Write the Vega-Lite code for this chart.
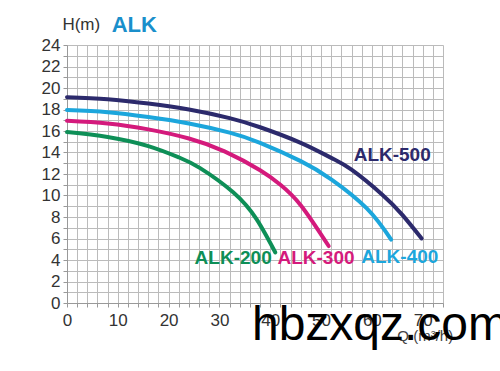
{
  "$schema": "https://vega.github.io/schema/vega-lite/v6.json",
  "width": 376,
  "height": 258,
  "autosize": {"type": "none"},
  "padding": {"left": 67, "top": 45, "right": 57, "bottom": 68},
  "background": "white",
  "config": {"view": {"stroke": null}},
  "datasets": {
    "curves": [
      {"model": "ALK-500", "q": 0, "h": 19.15},
      {"model": "ALK-500", "q": 8, "h": 18.95},
      {"model": "ALK-500", "q": 16, "h": 18.55},
      {"model": "ALK-500", "q": 24, "h": 18.0},
      {"model": "ALK-500", "q": 32, "h": 17.2},
      {"model": "ALK-500", "q": 38, "h": 16.35},
      {"model": "ALK-500", "q": 46, "h": 14.9},
      {"model": "ALK-500", "q": 52, "h": 13.5},
      {"model": "ALK-500", "q": 56, "h": 12.4},
      {"model": "ALK-500", "q": 62, "h": 10.1},
      {"model": "ALK-500", "q": 66, "h": 8.2},
      {"model": "ALK-500", "q": 69.8, "h": 6.0},
      {"model": "ALK-400", "q": 0, "h": 17.95},
      {"model": "ALK-400", "q": 8, "h": 17.75},
      {"model": "ALK-400", "q": 16, "h": 17.3},
      {"model": "ALK-400", "q": 24, "h": 16.7},
      {"model": "ALK-400", "q": 32, "h": 15.85},
      {"model": "ALK-400", "q": 38, "h": 14.9},
      {"model": "ALK-400", "q": 46, "h": 13.2},
      {"model": "ALK-400", "q": 52, "h": 11.5},
      {"model": "ALK-400", "q": 59, "h": 8.8},
      {"model": "ALK-400", "q": 63.8, "h": 5.9},
      {"model": "ALK-300", "q": 0, "h": 16.95},
      {"model": "ALK-300", "q": 8, "h": 16.7},
      {"model": "ALK-300", "q": 16, "h": 16.15},
      {"model": "ALK-300", "q": 24, "h": 15.3},
      {"model": "ALK-300", "q": 31, "h": 14.1},
      {"model": "ALK-300", "q": 38, "h": 12.35},
      {"model": "ALK-300", "q": 42, "h": 11.0},
      {"model": "ALK-300", "q": 46, "h": 9.1},
      {"model": "ALK-300", "q": 51.5, "h": 5.3},
      {"model": "ALK-200", "q": 0, "h": 15.9},
      {"model": "ALK-200", "q": 8, "h": 15.45},
      {"model": "ALK-200", "q": 16, "h": 14.6},
      {"model": "ALK-200", "q": 22, "h": 13.55},
      {"model": "ALK-200", "q": 26.2, "h": 12.55},
      {"model": "ALK-200", "q": 32.7, "h": 10.3},
      {"model": "ALK-200", "q": 37.3, "h": 7.8},
      {"model": "ALK-200", "q": 41, "h": 4.7}
    ],
    "labels": [
      {"model": "ALK-500", "q": 64, "h": 13.8},
      {"model": "ALK-400", "q": 65.5, "h": 4.3},
      {"model": "ALK-300", "q": 49, "h": 4.2},
      {"model": "ALK-200", "q": 32.7, "h": 4.2}
    ],
    "texts": [
      {"q": -0.9, "h": 25.9, "t": "H(m)", "kind": "unit"},
      {"q": 8.8, "h": 25.9, "t": "ALK", "kind": "brand"},
      {"q": 70.5, "h": -3.1, "t": "Q (m³/h)", "kind": "xtitle"},
      {"q": 36.4, "h": -3.45, "t": "hbzxqz.com", "kind": "mark"}
    ]
  },
  "encoding": {
    "x": {
      "field": "q", "type": "quantitative",
      "scale": {"domain": [0, 74], "nice": false, "zero": false},
      "axis": {
        "values": [0,2,4,6,8,10,12,14,16,18,20,22,24,26,28,30,32,34,36,38,40,42,44,46,48,50,52,54,56,58,60,62,64,66,68,70,72,74],
        "labelExpr": "datum.value % 10 == 0 ? datum.label : ''",
        "title": null,
        "grid": true, "gridColor": "#bbbbbb", "gridWidth": 1, "gridOpacity": 1,
        "domainColor": "#999999", "tickColor": "#999999", "tickSize": 4,
        "labelFont": "Liberation Sans", "labelFontSize": 17, "labelColor": "#333333",
        "labelPadding": 5, "labelFlush": false, "labelOverlap": false
      }
    },
    "y": {
      "field": "h", "type": "quantitative",
      "scale": {"domain": [0, 24], "nice": false},
      "axis": {
        "values": [0,1,2,3,4,5,6,7,8,9,10,11,12,13,14,15,16,17,18,19,20,21,22,23,24],
        "labelExpr": "datum.value % 2 == 0 ? datum.label : ''",
        "title": null,
        "grid": true, "gridColor": "#bbbbbb", "gridWidth": 1, "gridOpacity": 1,
        "domainColor": "#999999", "tickColor": "#999999", "tickSize": 4,
        "labelFont": "Liberation Sans", "labelFontSize": 17, "labelColor": "#333333",
        "labelPadding": 3, "labelFlush": false, "labelOverlap": false
      }
    }
  },
  "layer": [
    {
      "data": {"name": "curves"},
      "mark": {"type": "line", "interpolate": "natural", "strokeWidth": 4, "strokeCap": "round"},
      "encoding": {
        "color": {
          "field": "model", "type": "nominal",
          "scale": {"domain": ["ALK-200", "ALK-300", "ALK-400", "ALK-500"], "range": ["#0e8f57", "#d41a7c", "#1ca6dc", "#2c2a6c"]},
          "legend": null
        },
        "detail": {"field": "model"}
      }
    },
    {
      "data": {"name": "labels"},
      "mark": {"type": "text", "font": "Liberation Sans", "fontWeight": "bold", "fontSize": 19, "align": "center", "baseline": "middle"},
      "encoding": {
        "text": {"field": "model"},
        "color": {"field": "model", "type": "nominal", "legend": null}
      }
    },
    {
      "data": {"name": "texts"},
      "transform": [{"filter": "datum.kind == 'unit'"}],
      "mark": {"type": "text", "font": "Liberation Sans", "fontSize": 17, "align": "left", "baseline": "middle", "color": "#333333", "clip": false},
      "encoding": {"text": {"field": "t"}}
    },
    {
      "data": {"name": "texts"},
      "transform": [{"filter": "datum.kind == 'brand'"}],
      "mark": {"type": "text", "font": "Liberation Sans", "fontWeight": "bold", "fontSize": 22, "align": "left", "baseline": "middle", "color": "#1a8fcb", "clip": false},
      "encoding": {"text": {"field": "t"}}
    },
    {
      "data": {"name": "texts"},
      "transform": [{"filter": "datum.kind == 'xtitle'"}],
      "mark": {"type": "text", "font": "Liberation Sans", "fontSize": 15, "align": "center", "baseline": "middle", "color": "#444444", "clip": false},
      "encoding": {"text": {"field": "t"}}
    },
    {
      "data": {"name": "texts"},
      "transform": [{"filter": "datum.kind == 'mark'"}],
      "mark": {"type": "text", "font": "Liberation Sans", "fontSize": 48, "align": "left", "baseline": "alphabetic", "color": "#000000", "clip": false},
      "encoding": {"text": {"field": "t"}}
    }
  ]
}
